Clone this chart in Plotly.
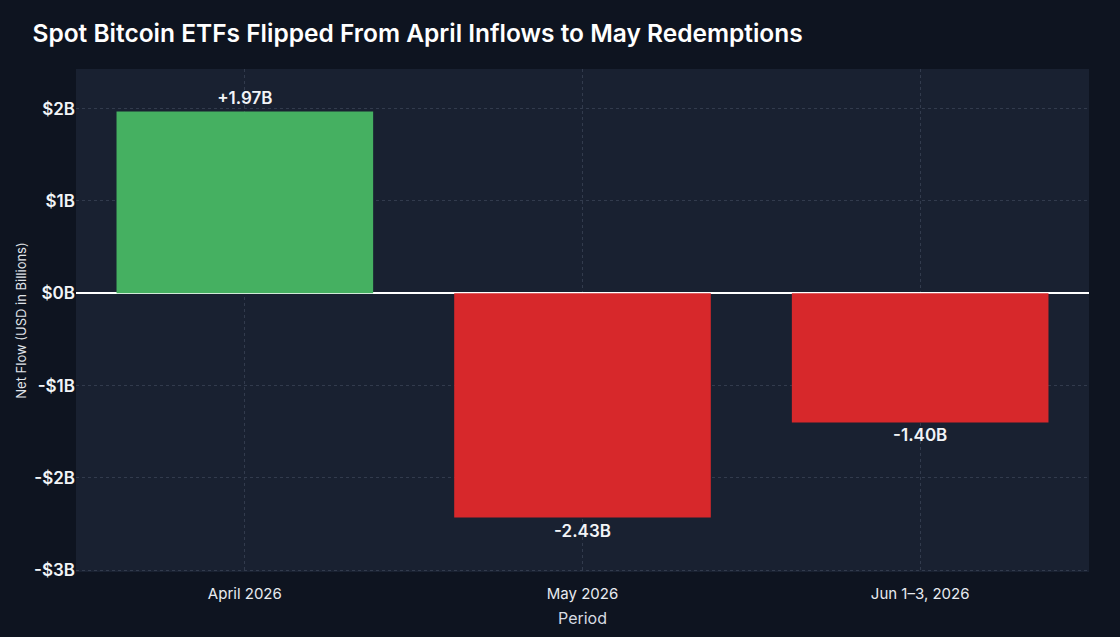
import plotly.graph_objects as go

periods = ["April 2026", "May 2026", "Jun 1–3, 2026"]
net_flow = [1.97, -2.43, -1.40]
labels = ["+1.97B", "-2.43B", "-1.40B"]
tick_vals = [2, 1, 0, -1, -2, -3]
tick_text = ["$2B", "$1B", "$0B", "-$1B", "-$2B", "-$3B"]

colors = ["#45b061" if v >= 0 else "#d7282b" for v in net_flow]

fig = go.Figure(go.Bar(
    x=periods, y=net_flow, marker=dict(color=colors, line=dict(width=0)),
    text=labels, textposition="outside", cliponaxis=False,
    textfont=dict(size=17, color="#f2f4f7", family="Inter", weight=600),
    width=0.76,
))

fig.update_layout(
    width=1120, height=637,
    paper_bgcolor="#0e1420", plot_bgcolor="#192131",
    margin=dict(l=76, r=31, t=69, b=65),
    title=dict(text="Spot Bitcoin ETFs Flipped From April Inflows to May Redemptions",
               x=0.029, xanchor="left", y=0.948, yanchor="middle",
               font=dict(size=24.5, color="#ffffff", family="Inter", weight=600)),
    showlegend=False,
    font=dict(family="Inter", color="#e8ebf0"),
)
fig.update_xaxes(
    showgrid=True, gridcolor="#323b4d", griddash="dot", gridwidth=1,
    tickfont=dict(size=15, color="#e8ebf0"),
    title=dict(text="Period", font=dict(size=16, color="#d8dce3"), standoff=10),
    ticks="outside", ticklen=8, tickcolor="rgba(0,0,0,0)", zeroline=False,
)
fig.update_yaxes(
    range=[-3.02, 2.43], tickvals=tick_vals, ticktext=tick_text,
    showgrid=True, gridcolor="#323b4d", griddash="dot", gridwidth=1,
    zeroline=True, zerolinecolor="#ffffff", zerolinewidth=1.5,
    tickfont=dict(size=17, color="#f2f4f7", weight=600),
    title=dict(text="Net Flow (USD in Billions)", font=dict(size=13, color="#e0e4ea"), standoff=4),
    ticks="",
)

fig.write_html("out.html")
